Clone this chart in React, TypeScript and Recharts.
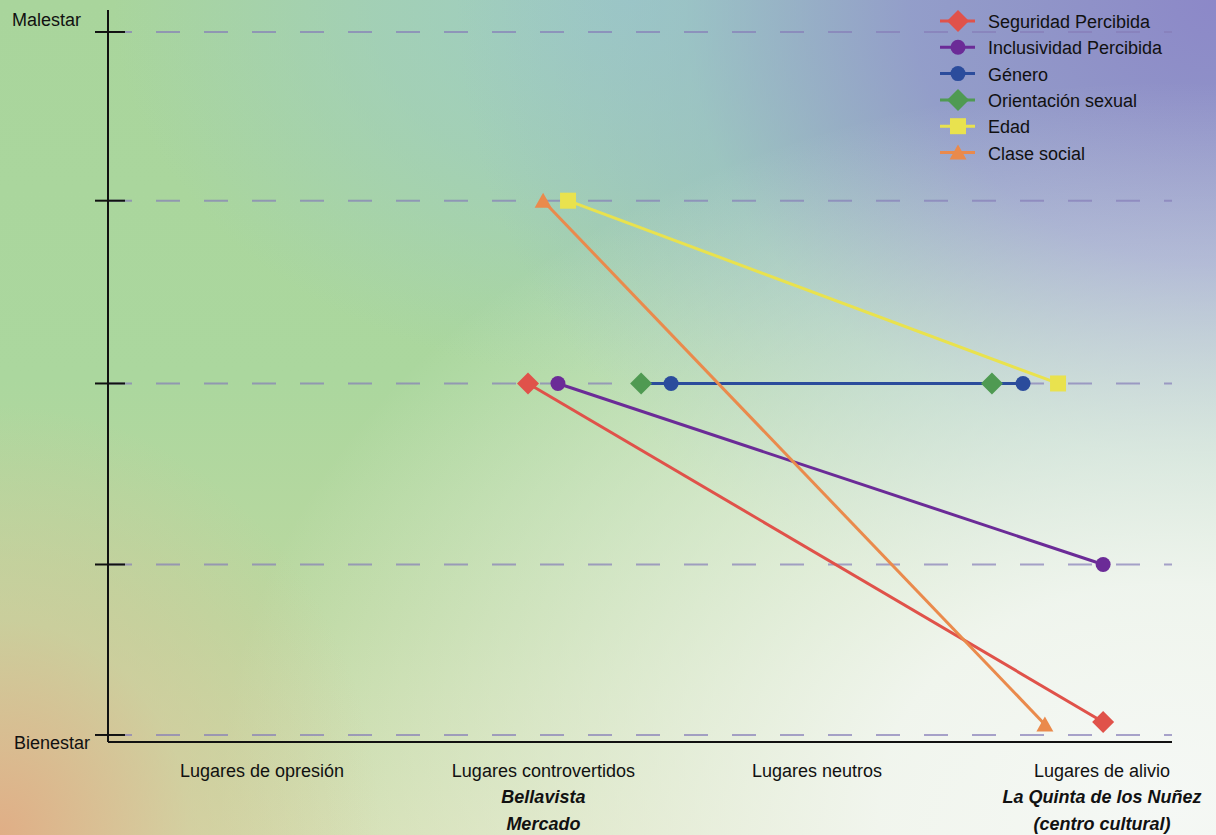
import { CartesianGrid, Legend, Line, LineChart, XAxis, YAxis } from 'recharts'

// categories along the bottom, placed on a numeric axis (one unit per category)
const categories = ['Lugares de opresión', 'Lugares controvertidos', 'Lugares neutros', 'Lugares de alivio']
const categoryPositions = [0.55, 1.555, 2.532, 3.55]
const placeNames = [[], ['Bellavista', 'Mercado'], [], ['La Quinta de los Nuñez', '(centro cultural)']]

// vertical scale: Bienestar (bottom) -> Malestar (top)
const levels = [0, 0.97, 2, 3.04, 4]
const levelNames = ['Bienestar', '', '', '', 'Malestar']

// each series: a place in "controvertidos" and one in "alivio"
const seguridadPercibida = [{ x: 1.5, y: 2 }, { x: 3.554, y: 0.074 }]
const inclusividadPercibida = [{ x: 1.607, y: 2 }, { x: 3.554, y: 0.97 }]
const genero = [{ x: 2.011, y: 2 }, { x: 3.268, y: 2 }]
const orientacionSexual = [{ x: 1.904, y: 2 }, { x: 3.157, y: 2 }]
const edad = [{ x: 1.643, y: 3.04 }, { x: 3.393, y: 2 }]
const claseSocial = [{ x: 1.554, y: 3.04 }, { x: 3.346, y: 0.06 }]

type Shape = 'diamond' | 'circle' | 'square' | 'triangle'

const legendItems: { name: string; color: string; shape: Shape }[] = [
  { name: 'Seguridad Percibida', color: '#e0524a', shape: 'diamond' },
  { name: 'Inclusividad Percibida', color: '#6b2b97', shape: 'circle' },
  { name: 'Género', color: '#2b4c9c', shape: 'circle' },
  { name: 'Orientación sexual', color: '#4f9a52', shape: 'diamond' },
  { name: 'Edad', color: '#e9e24e', shape: 'square' },
  { name: 'Clase social', color: '#ea8a4c', shape: 'triangle' },
]

// drawing order (later on top)
const seriesList = [
  { key: 'genero', data: genero, color: '#2b4c9c', line: '#2b4c9c', shape: 'circle' as Shape },
  { key: 'orientacion', data: orientacionSexual, color: '#4f9a52', line: '#2b4c9c', shape: 'diamond' as Shape },
  { key: 'edad', data: edad, color: '#e9e24e', line: '#e9e24e', shape: 'square' as Shape },
  { key: 'inclusividad', data: inclusividadPercibida, color: '#6b2b97', line: '#6b2b97', shape: 'circle' as Shape },
  { key: 'seguridad', data: seguridadPercibida, color: '#e0524a', line: '#e0524a', shape: 'diamond' as Shape },
  { key: 'clase', data: claseSocial, color: '#ea8a4c', line: '#ea8a4c', shape: 'triangle' as Shape },
]

const font = '"Liberation Sans", Arial, sans-serif'

function Marker({ cx, cy, shape, color }: { cx: number; cy: number; shape: Shape; color: string }) {
  if (shape === 'diamond')
    return <path d={`M${cx},${cy - 11}L${cx + 11},${cy}L${cx},${cy + 11}L${cx - 11},${cy}Z`} fill={color} />
  if (shape === 'circle') return <circle cx={cx} cy={cy} r={7.5} fill={color} />
  if (shape === 'square') return <rect x={cx - 8} y={cy - 8} width={16} height={16} fill={color} />
  return <path d={`M${cx},${cy - 8}L${cx + 8.5},${cy + 7}L${cx - 8.5},${cy + 7}Z`} fill={color} />
}

const dotFor = (shape: Shape, color: string) => (props: any) => (
  <Marker key={`${shape}-${color}-${props.index}`} cx={props.cx} cy={props.cy} shape={shape} color={color} />
)

function CategoryTick(props: any) {
  const { x, y, index } = props
  return (
    <g fontFamily={font} fontSize={18} fill='#111'>
      <text x={x} y={y + 35} textAnchor='middle'>
        {categories[index]}
      </text>
      {placeNames[index].map((name, i) => (
        <text key={name} x={x} y={y + 61 + i * 27} textAnchor='middle' fontWeight='bold' fontStyle='italic'>
          {name}
        </text>
      ))}
    </g>
  )
}

function LevelTick(props: any) {
  const { x, y, index } = props
  const label = levelNames[index]
  return (
    <g>
      <line x1={x - 13} x2={x + 17} y1={y} y2={y} stroke='#111' strokeWidth={2} />
      {label && (
        <text
          x={x - (index === 0 ? 94 : 96)}
          y={index === 0 ? y + 14 : y - 6}
          fontFamily={font}
          fontSize={18}
          fill='#111'
        >
          {label}
        </text>
      )}
    </g>
  )
}

function ChartLegend() {
  return (
    <svg width={286} height={170}>
      {legendItems.map((item, i) => {
        const cy = 21 + i * 26.3
        return (
          <g key={item.name}>
            <line x1={10} x2={45} y1={cy} y2={cy} stroke={item.color} strokeWidth={3} />
            <Marker cx={28} cy={cy} shape={item.shape} color={item.color} />
            <text x={58} y={cy + 7} fontFamily={font} fontSize={18} fill='#111'>
              {item.name}
            </text>
          </g>
        )
      })}
    </svg>
  )
}

const background = [
  'radial-gradient(ellipse 380px 430px at 0% 100%, rgba(224,174,134,1) 0%, rgba(216,196,152,0.5) 50%, rgba(216,196,152,0) 100%)',
  'radial-gradient(ellipse 950px 720px at 96% 96%, rgba(245,248,245,1) 0%, rgba(245,248,245,0.9) 30%, rgba(245,248,245,0) 100%)',
  'radial-gradient(ellipse 760px 660px at 100% 0%, rgba(140,136,200,1) 0%, rgba(145,152,204,0.9) 40%, rgba(150,185,200,0.5) 70%, rgba(156,205,196,0) 100%)',
  'radial-gradient(ellipse 520px 380px at 52% 0%, rgba(158,204,198,1) 0%, rgba(158,204,198,0.6) 50%, rgba(158,204,198,0) 100%)',
  'linear-gradient(to bottom, #a9d59c 0%, #abd79e 45%, #bcd8a0 75%, #cfdcaa 100%)',
].join(', ')

export default function App() {
  return (
    <div style={{ position: 'absolute', left: 0, top: 0, width: 1216, height: 835, background }}>
      <LineChart width={1216} height={835} margin={{ top: 10, right: 44, bottom: 0, left: 0 }}>
        <CartesianGrid
          vertical={false}
          horizontalValues={levels}
          stroke='#867eb8'
          strokeOpacity={0.7}
          strokeWidth={2}
          strokeDasharray='24 24'
        />
        <XAxis
          type='number'
          dataKey='x'
          domain={[0, 3.8]}
          ticks={categoryPositions}
          interval={0}
          height={93}
          tickLine={false}
          tickSize={0}
          tickMargin={0}
          tick={<CategoryTick />}
          axisLine={{ stroke: '#111', strokeWidth: 2 }}
        />
        <YAxis
          type='number'
          domain={[-0.04, 4.125]}
          ticks={levels}
          interval={0}
          width={108}
          tickLine={false}
          tickSize={0}
          tickMargin={0}
          tick={<LevelTick />}
          axisLine={{ stroke: '#111', strokeWidth: 2 }}
        />
        {seriesList.map((s) => (
          <Line
            key={s.key}
            data={s.data}
            dataKey='y'
            type='linear'
            stroke={s.line}
            strokeWidth={3}
            dot={dotFor(s.shape, s.color)}
            activeDot={false}
            legendType='none'
            isAnimationActive={false}
          />
        ))}
        <Legend
          layout='horizontal'
          verticalAlign='middle'
          align='center'
          wrapperStyle={{ top: 0, left: 930, width: 286, height: 170 }}
          content={() => <ChartLegend />}
        />
      </LineChart>
    </div>
  )
}
